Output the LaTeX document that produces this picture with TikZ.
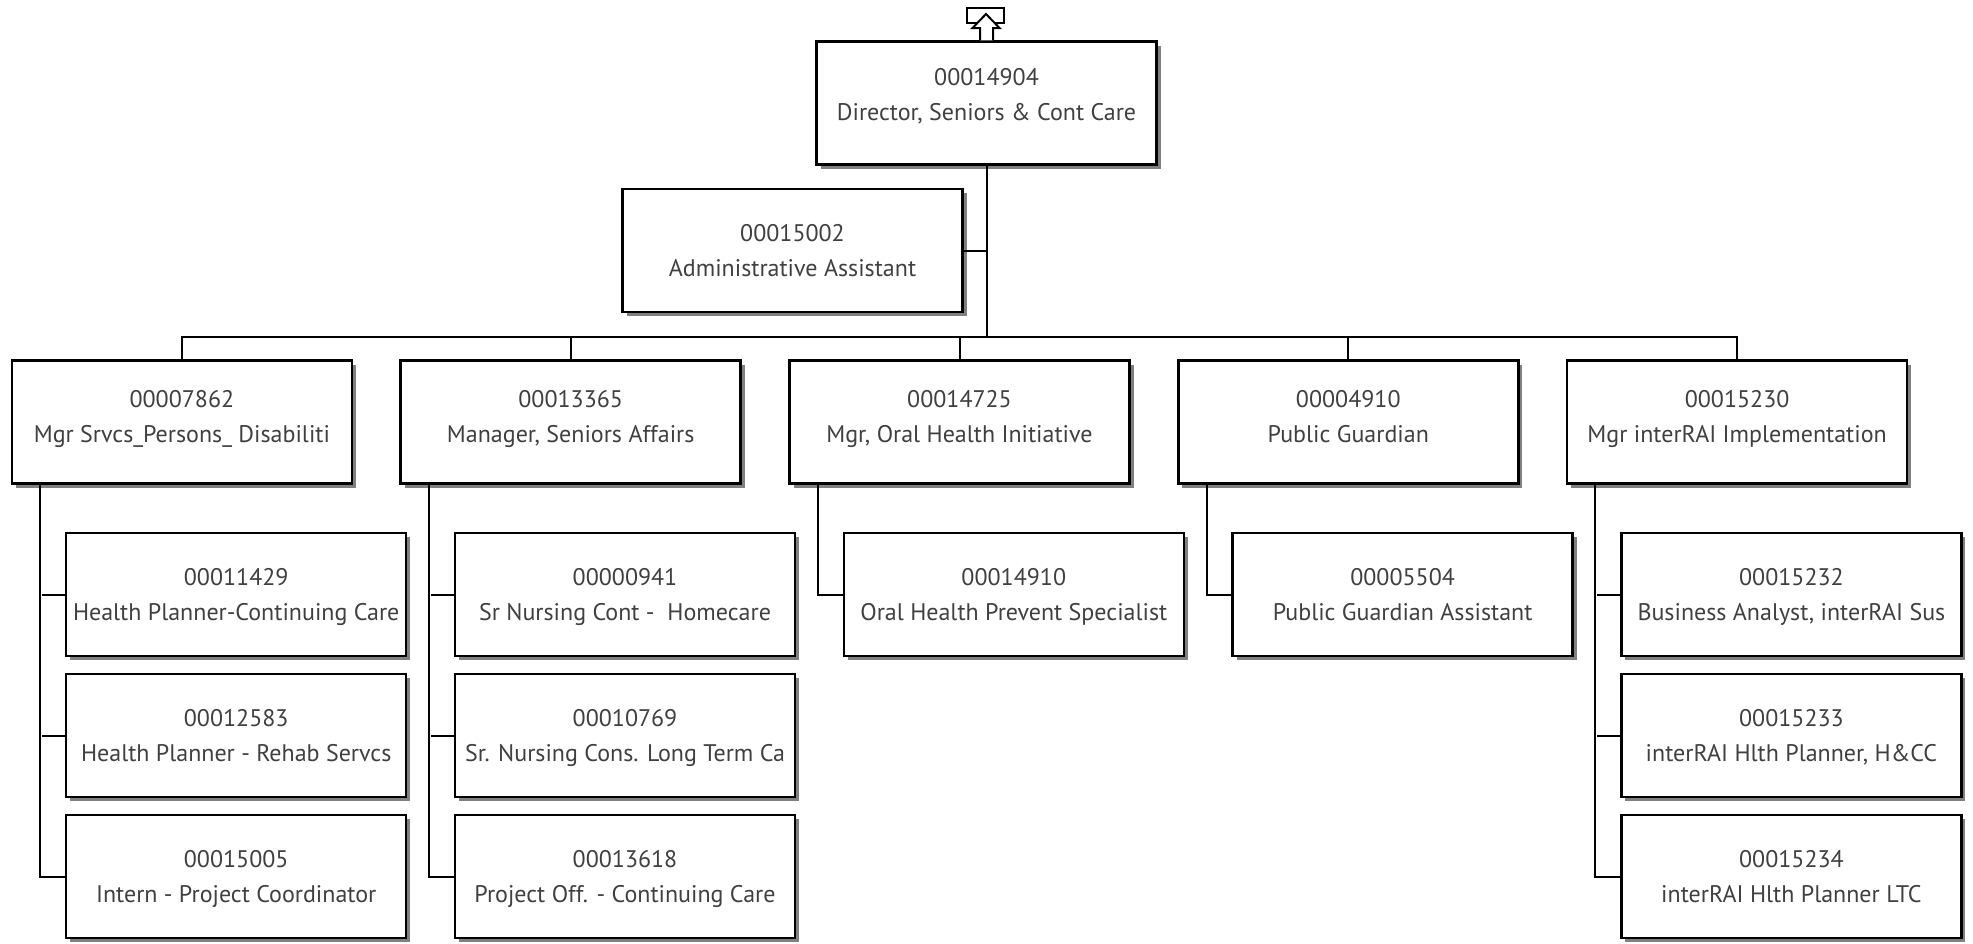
\documentclass[tikz,border=0pt]{standalone}
\usepackage{fontspec}
\setmainfont{PT Sans}
\usetikzlibrary{positioning,shadows}

\begin{document}
\begin{tikzpicture}[x=1pt,y=-1pt,line width=2pt,
  post/.style={draw,line width=2.5pt,fill=white,minimum width=340pt,minimum height=123pt,
    align=center,text=black!75,font=\fontsize{24}{35}\selectfont,text depth=1pt,
    drop shadow={shadow xshift=4pt,shadow yshift=-4pt,fill=black!50,opacity=1}},
  mgr/.style={post,text depth=11pt},
  head/.style={post,text depth=17pt}]
  \useasboundingbox (0,0) rectangle (1973,943);

  % top of the tree
  \node[head] (dir) at (986.5,103) {00014904\\Director, Seniors \& Cont Care};
  \node[post] (adm) at (792.5,250.5) {00015002\\Administrative Assistant};
  \coordinate (bar) at (986.5,337);

  % managers
  \node[mgr] (m1) at (181.9,422) {00007862\\Mgr Srvcs\_Persons\_ Disabiliti};
  \node[mgr] (m2) at (570.7,422) {00013365\\Manager, Seniors Affairs};
  \node[mgr] (m3) at (959.5,422) {00014725\\Mgr, Oral Health Initiative};
  \node[mgr] (m4) at (1348.3,422) {00004910\\Public Guardian};
  \node[mgr] (m5) at (1737.1,422) {00015230\\Mgr interRAI Implementation};

  % staff
  \node[post] (c11) at (236.2,594.5) {00011429\\Health Planner-Continuing Care};
  \node[post] (c12) [below=15.5pt of c11] {00012583\\Health Planner - Rehab Servcs};
  \node[post] (c13) [below=15.5pt of c12] {00015005\\Intern - Project Coordinator};
  \node[post] (c21) at (625,594.5) {00000941\\Sr Nursing Cont -\ \ Homecare};
  \node[post] (c22) [below=15.5pt of c21] {00010769\\Sr. Nursing Cons. Long Term Ca};
  \node[post] (c23) [below=15.5pt of c22] {00013618\\Project Off. - Continuing Care};
  \node[post] (c31) at (1013.8,594.5) {00014910\\Oral Health Prevent Specialist};
  \node[post] (c41) at (1402.6,594.5) {00005504\\Public Guardian Assistant};
  \node[post] (c51) at (1791.4,594.5) {00015232\\Business Analyst, interRAI Sus};
  \node[post] (c52) [below=15.5pt of c51] {00015233\\interRAI Hlth Planner, H\&CC};
  \node[post] (c53) [below=15.5pt of c52] {00015234\\interRAI Hlth Planner LTC};

  % up link
  \draw[line width=2.5pt] (967,8) rectangle (1004,23);
  \draw[line width=2pt,fill=white] (dir.north -| 980,0) -- (980,28) -- (972.5,28) -- (986,14)
    -- (999.5,28) -- (993,28) -- (dir.north -| 993,0);

  % connectors
  \draw (dir.south) -- (bar);
  \draw (adm.east) -- (adm.east -| bar);
  \draw (m1.north) |- (bar) -| (m5.north);
  \draw (m2.north) -- (m2.north |- bar);
  \draw (m3.north) -- (m3.north |- bar);
  \draw (m4.north) -- (m4.north |- bar);

  \draw ([xshift=29.5pt]m1.south west) |- (c13.west);
  \draw (c11.west) -- +(-23,0) (c12.west) -- +(-23,0);
  \draw ([xshift=29.5pt]m2.south west) |- (c23.west);
  \draw (c21.west) -- +(-23,0) (c22.west) -- +(-23,0);
  \draw ([xshift=29.5pt]m3.south west) |- (c31.west);
  \draw ([xshift=29.5pt]m4.south west) |- (c41.west);
  \draw ([xshift=29.5pt]m5.south west) |- (c53.west);
  \draw (c51.west) -- +(-23,0) (c52.west) -- +(-23,0);
\end{tikzpicture}
\end{document}
